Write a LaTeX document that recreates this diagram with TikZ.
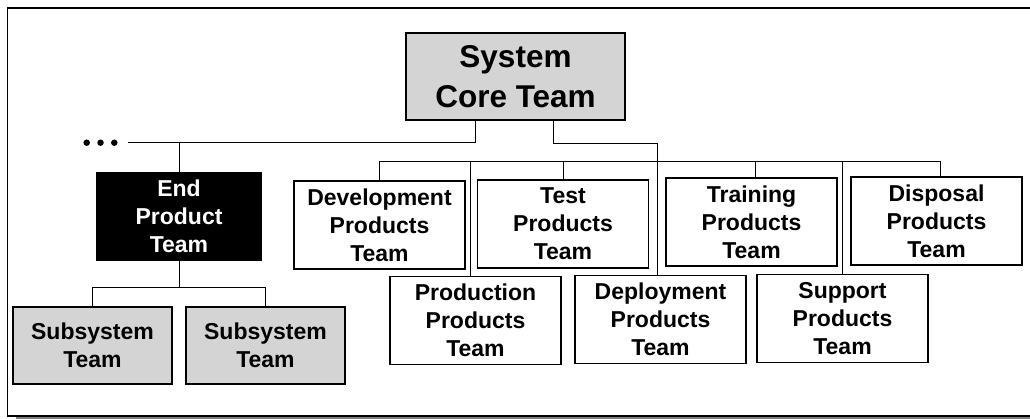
\documentclass[tikz,border=0pt]{standalone}
\usepackage{fontspec}
\setmainfont{Liberation Sans}
\usepackage{tikz}
\usetikzlibrary{positioning}
\definecolor{boxgray}{RGB}{212,212,212}

\begin{document}
\begin{tikzpicture}[x=1pt, y=-1pt, line width=1pt,
    team/.style = {draw, line width=1.2pt, fill=white, inner sep=0pt, align=center,
                   minimum width=171pt, minimum height=88pt,
                   font=\fontsize{23}{28}\selectfont\bfseries},
    coreteam/.style = {team, fill=boxgray, minimum width=219pt, minimum height=87pt,
                   font=\fontsize{31.5}{40}\selectfont\bfseries},
    endteam/.style = {team, fill=black, text=white, minimum width=164pt, minimum height=87pt},
    subteam/.style = {team, fill=boxgray, minimum width=159pt, minimum height=77pt},
    dot/.style = {circle, fill=black, inner sep=0pt, minimum size=6.5pt}]
            \useasboundingbox (0,0) rectangle (1030,419);
            % Frame
            \draw[gray, line width=1.5pt] (16,418) -- (1031,418);
            \draw[line width=1.3pt] (1031,8) -- (7.5,8) -- (7.5,416) -- (1031,416);
            % Nodes
            \node[coreteam] (sys) at (515.5,76.5) {System\\Core Team};
            \node[endteam] (endp) at (179,216.5) {End\\Product\\Team};
            \node[subteam] (sub1) at (92.5,345.5) {Subsystem\\Team};
            \node[subteam] (sub2) at (265.5,345.5) {Subsystem\\Team};
            \node[team] (dev) at (379.5,225) {Development\\Products\\Team};
            \node[team] (test) at (563,224) {Test\\Products\\Team};
            \node[team] (train) at (751.5,222) {Training\\Products\\Team};
            \node[team] (disp) at (936.5,221) {Disposal\\Products\\Team};
            \node[team] (prod) at (475.5,320.5) {Production\\Products\\Team};
            \node[team] (deploy) at (660.5,319.5) {Deployment\\Products\\Team};
            \node[team] (supp) at (842.5,318.5) {Support\\Products\\Team};
            \node[dot] (dot1) at (86.7,142.7) {};
            \node[dot] (dot2) at (100.5,142.7) {};
            \node[dot] (dot3) at (114.3,142.7) {};
            \coordinate (left) at (128,143);
            \coordinate (bus) at (0,162);
            \coordinate (subbus) at (0,288);
            % Edges
            \draw ([xshift=-40.5pt]sys.south) |- (left);
            \draw (left -| endp.north) -- (endp.north);
            \draw ([xshift=37.5pt]sys.south) -- ++(0,23) -| ([xshift=-3.5pt]deploy.north);
            \draw (dev.north) -- (dev.north |- bus) -- ([xshift=3.5pt]disp.north |- bus) -- ([xshift=3.5pt]disp.north);
            \draw (test.north) -- (test.north |- bus);
            \draw ([xshift=3.5pt]train.north) -- ([xshift=3.5pt]train.north |- bus);
            \draw ([xshift=-5.5pt]prod.north) -- ([xshift=-5.5pt]prod.north |- bus);
            \draw (supp.north) -- (supp.north |- bus);
            \draw (endp.south) -- (endp.south |- subbus);
            \draw (sub1.north) -- (sub1.north |- subbus) -- (sub2.north |- subbus) -- (sub2.north);
            \end{tikzpicture}
\end{document}
